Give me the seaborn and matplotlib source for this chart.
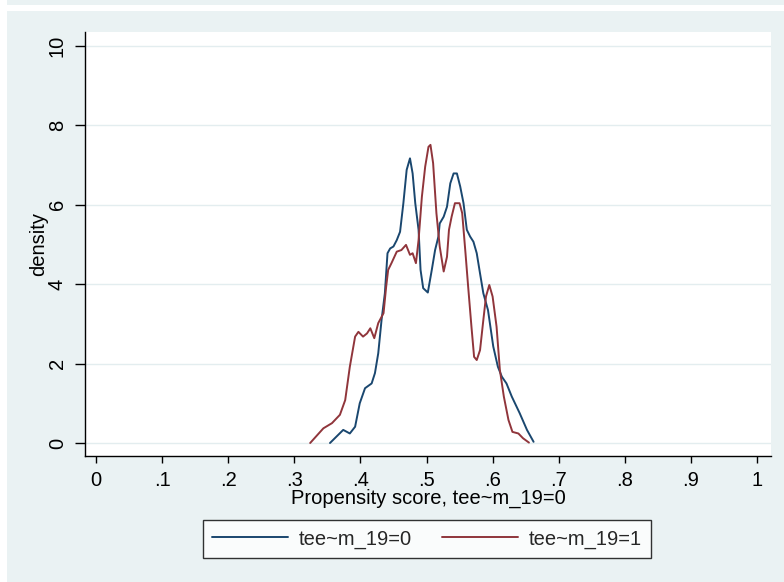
import matplotlib
matplotlib.use("Agg")
import matplotlib.pyplot as plt
from matplotlib.patches import Rectangle
import pandas as pd
import seaborn as sns

# Kernel density of the propensity score, by treatment group
ps_x_0 = [0.354, 0.374, 0.384, 0.392, 0.399, 0.407, 0.417, 0.422, 0.427, 0.432,
          0.437, 0.441, 0.445, 0.450, 0.455, 0.460, 0.465, 0.470, 0.475, 0.479,
          0.483, 0.488, 0.491, 0.495, 0.502, 0.508, 0.513, 0.518, 0.520, 0.526,
          0.531, 0.536, 0.541, 0.546, 0.551, 0.556, 0.561, 0.566, 0.571, 0.576,
          0.581, 0.586, 0.593, 0.601, 0.608, 0.614, 0.621, 0.629, 0.641, 0.652,
          0.662]
dens_0 = [0.00, 0.33, 0.24, 0.41, 1.00, 1.38, 1.50, 1.76, 2.26, 3.10,
          3.77, 4.78, 4.90, 4.95, 5.11, 5.32, 6.04, 6.88, 7.17, 6.79,
          6.04, 5.37, 4.36, 3.90, 3.79, 4.36, 4.86, 5.20, 5.53, 5.70,
          5.95, 6.54, 6.79, 6.79, 6.46, 6.04, 5.37, 5.20, 5.07, 4.78,
          4.27, 3.77, 3.35, 2.43, 1.92, 1.67, 1.50, 1.17, 0.75, 0.33,
          0.03]

ps_x_1 = [0.324, 0.344, 0.357, 0.369, 0.377, 0.384, 0.392, 0.397, 0.404, 0.410,
          0.415, 0.421, 0.427, 0.435, 0.439, 0.442, 0.447, 0.455, 0.462, 0.469,
          0.475, 0.479, 0.484, 0.488, 0.493, 0.498, 0.503, 0.506, 0.510, 0.515,
          0.520, 0.526, 0.531, 0.534, 0.538, 0.543, 0.550, 0.554, 0.559, 0.563,
          0.568, 0.572, 0.576, 0.581, 0.586, 0.590, 0.595, 0.600, 0.606, 0.611,
          0.617, 0.624, 0.630, 0.639, 0.646, 0.655]
dens_1 = [0.00, 0.37, 0.50, 0.71, 1.08, 1.92, 2.68, 2.80, 2.68, 2.76,
          2.89, 2.64, 3.02, 3.27, 3.94, 4.36, 4.53, 4.82, 4.86, 4.99,
          4.74, 4.78, 4.53, 5.11, 6.20, 6.96, 7.46, 7.51, 7.05, 5.79,
          4.95, 4.32, 4.69, 5.37, 5.70, 6.04, 6.04, 5.79, 4.78, 3.94,
          2.93, 2.17, 2.09, 2.34, 3.10, 3.69, 3.98, 3.69, 2.93, 1.84,
          1.17, 0.58, 0.28, 0.24, 0.12, 0.01]

group_labels = ["tee~m_19=0", "tee~m_19=1"]
x_ticks = [0.0, 0.1, 0.2, 0.3, 0.4, 0.5, 0.6, 0.7, 0.8, 0.9, 1.0]
x_tick_labels = ["0", ".1", ".2", ".3", ".4", ".5", ".6", ".7", ".8", ".9", "1"]
y_ticks = [0, 2, 4, 6, 8, 10]

df = pd.concat([
    pd.DataFrame({"score": ps_x_0, "density": dens_0, "group": group_labels[0]}),
    pd.DataFrame({"score": ps_x_1, "density": dens_1, "group": group_labels[1]}),
], ignore_index=True)

sns.set_theme(style="white")
plt.rcParams["font.family"] = ["Liberation Sans", "DejaVu Sans"]

BG = "#EAF2F3"
NAVY = "#1A476F"
MAROON = "#90353B"
FS = 14.5

fig = plt.figure(figsize=(7.84, 5.82), dpi=100, facecolor="white")
W, H = 784, 582
# graph region background (with the thin strip above it)
fig.patches.append(Rectangle((7 / W, 0), 1 - 7 / W, (H - 11) / H,
                             transform=fig.transFigure, facecolor=BG,
                             edgecolor="none", zorder=-10))
fig.patches.append(Rectangle((7 / W, (H - 5) / H), 1 - 7 / W, 5 / H,
                             transform=fig.transFigure, facecolor=BG,
                             edgecolor="none", zorder=-10))

ax = fig.add_axes([85 / W, (H - 456) / H, (771 - 85) / W, (456 - 32) / H])
ax.set_facecolor("white")

sns.lineplot(data=df, x="score", y="density", hue="group",
             palette=[NAVY, MAROON], linewidth=1.4, sort=False,
             estimator=None, ax=ax, legend=False)

ax.set_xlim((85 - 96) / 661, (771 - 96) / 661)
ax.set_ylim(-13 / 39.7, (443 - 32) / 39.7)

ax.set_xticks(x_ticks)
ax.set_xticklabels(x_tick_labels)
ax.set_yticks(y_ticks)
ax.set_yticklabels([str(v) for v in y_ticks], rotation=90, va="center")

for y in y_ticks:
    ax.axhline(y, color="#E3EDEF", linewidth=1.0, zorder=0)

for side in ("top", "right"):
    ax.spines[side].set_visible(False)
for side in ("left", "bottom"):
    ax.spines[side].set_color("black")
    ax.spines[side].set_linewidth(1.0)

ax.tick_params(axis="x", which="major", direction="out", length=5, width=1,
               color="black", labelsize=FS, pad=6, labelcolor="black")
ax.tick_params(axis="y", which="major", direction="out", length=7, width=1,
               color="black", labelsize=FS, pad=6, labelcolor="black")
ax.xaxis.set_ticks_position("bottom")
ax.yaxis.set_ticks_position("left")

ax.set_xlabel("Propensity score, tee~m_19=0", fontsize=FS, color="black", labelpad=-1)
ax.set_ylabel("density", fontsize=FS, color="black", labelpad=0)

handles = [plt.Line2D([], [], color=NAVY, linewidth=1.4),
           plt.Line2D([], [], color=MAROON, linewidth=1.4)]
leg = fig.legend(handles, group_labels, loc="center",
                 bbox_to_anchor=(427 / W, (H - 539) / H), ncol=2,
                 fontsize=FS, frameon=True, fancybox=False, edgecolor="black",
                 handlelength=3.75, columnspacing=1.5, handletextpad=0.55,
                 borderpad=0.45)
leg.get_frame().set_linewidth(1.0)
leg.get_frame().set_facecolor("white")

fig.savefig("out.png", dpi=100, facecolor=fig.get_facecolor())
